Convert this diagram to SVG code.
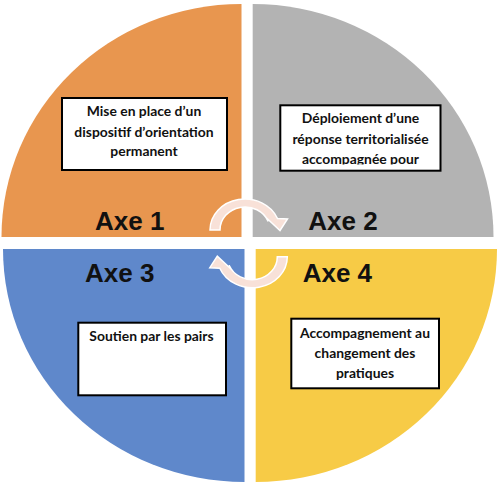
<svg xmlns="http://www.w3.org/2000/svg" width="500" height="484" viewBox="0 0 500 484">
<defs>
<style>
.box{fill:#ffffff;stroke:#000000;stroke-width:2}
.t{font-family:Lato,"Liberation Sans",sans-serif;font-weight:bold;font-size:13.9px;fill:#111111;text-anchor:middle}
.axe{font-family:"Liberation Sans",Arial,sans-serif;font-weight:bold;font-size:26px;fill:#111111}
.arr{fill:#F8E1D8;stroke:#ffffff;stroke-width:1.5;stroke-linejoin:miter}
</style>
<clipPath id="clip2"><rect x="281" y="106" width="158" height="58.6"/></clipPath>
</defs>
<rect width="500" height="484" fill="#ffffff"/>
<g id="quadrants">
<path d="M241.5,237 L1.5,237 A240 233 0 0 1 241.5,4 Z" fill="#E8964F"/>
<path d="M252.7,237 L252.7,4 A240.8 233 0 0 1 493.5,237 Z" fill="#B3B3B3"/>
<path d="M244.5,249 L244.5,482 A241.5 233 0 0 1 3,249 Z" fill="#5F88CB"/>
<path d="M255.7,249 L497,249 A241.3 233 0 0 1 255.7,482 Z" fill="#F7CB46"/>
</g>
<g id="connectors">
<path class="arr" d="M210,230 A35 31 0 0 1 277.5,218.5 L287.5,219 L280,230.5 L266,217.5 L268.2,221.4 A25 23 0 0 0 220,230 Z"/>
<path class="arr" transform="rotate(180 248.65 243.35)" d="M210,230 A35 31 0 0 1 277.5,218.5 L287.5,219 L280,230.5 L266,217.5 L268.2,221.4 A25 23 0 0 0 220,230 Z"/>
</g>
<g id="axe1">
<rect class="box" x="62" y="98" width="165" height="72"/>
<text class="t" x="144" y="115.7">Mise en place d’un</text>
<text class="t" x="144" y="136.5">dispositif d’orientation</text>
<text class="t" x="144" y="156">permanent</text>
<text class="axe" x="95" y="229.5">Axe 1</text>
</g>
<g id="axe2">
<rect class="box" x="280.3" y="105.3" width="160.2" height="65.4"/>
<g clip-path="url(#clip2)">
<text class="t" x="360.5" y="123.3">Déploiement d’une</text>
<text class="t" x="360.5" y="144">réponse territorialisée</text>
<text class="t" x="360.5" y="164">accompagnée pour</text>
</g>
<text class="axe" x="308.3" y="230">Axe 2</text>
</g>
<g id="axe3">
<rect class="box" x="78.3" y="322.7" width="147.7" height="72.6"/>
<text class="t" x="151.5" y="340.7">Soutien par les pairs</text>
<text class="axe" x="85" y="281.7">Axe 3</text>
</g>
<g id="axe4">
<rect class="box" x="291.3" y="318.7" width="147.7" height="69.6"/>
<text class="t" x="365" y="338.3">Accompagnement au</text>
<text class="t" x="365" y="358">changement des</text>
<text class="t" x="365" y="378.3">pratiques</text>
<text class="axe" x="302.7" y="281.7">Axe 4</text>
</g>
</svg>
